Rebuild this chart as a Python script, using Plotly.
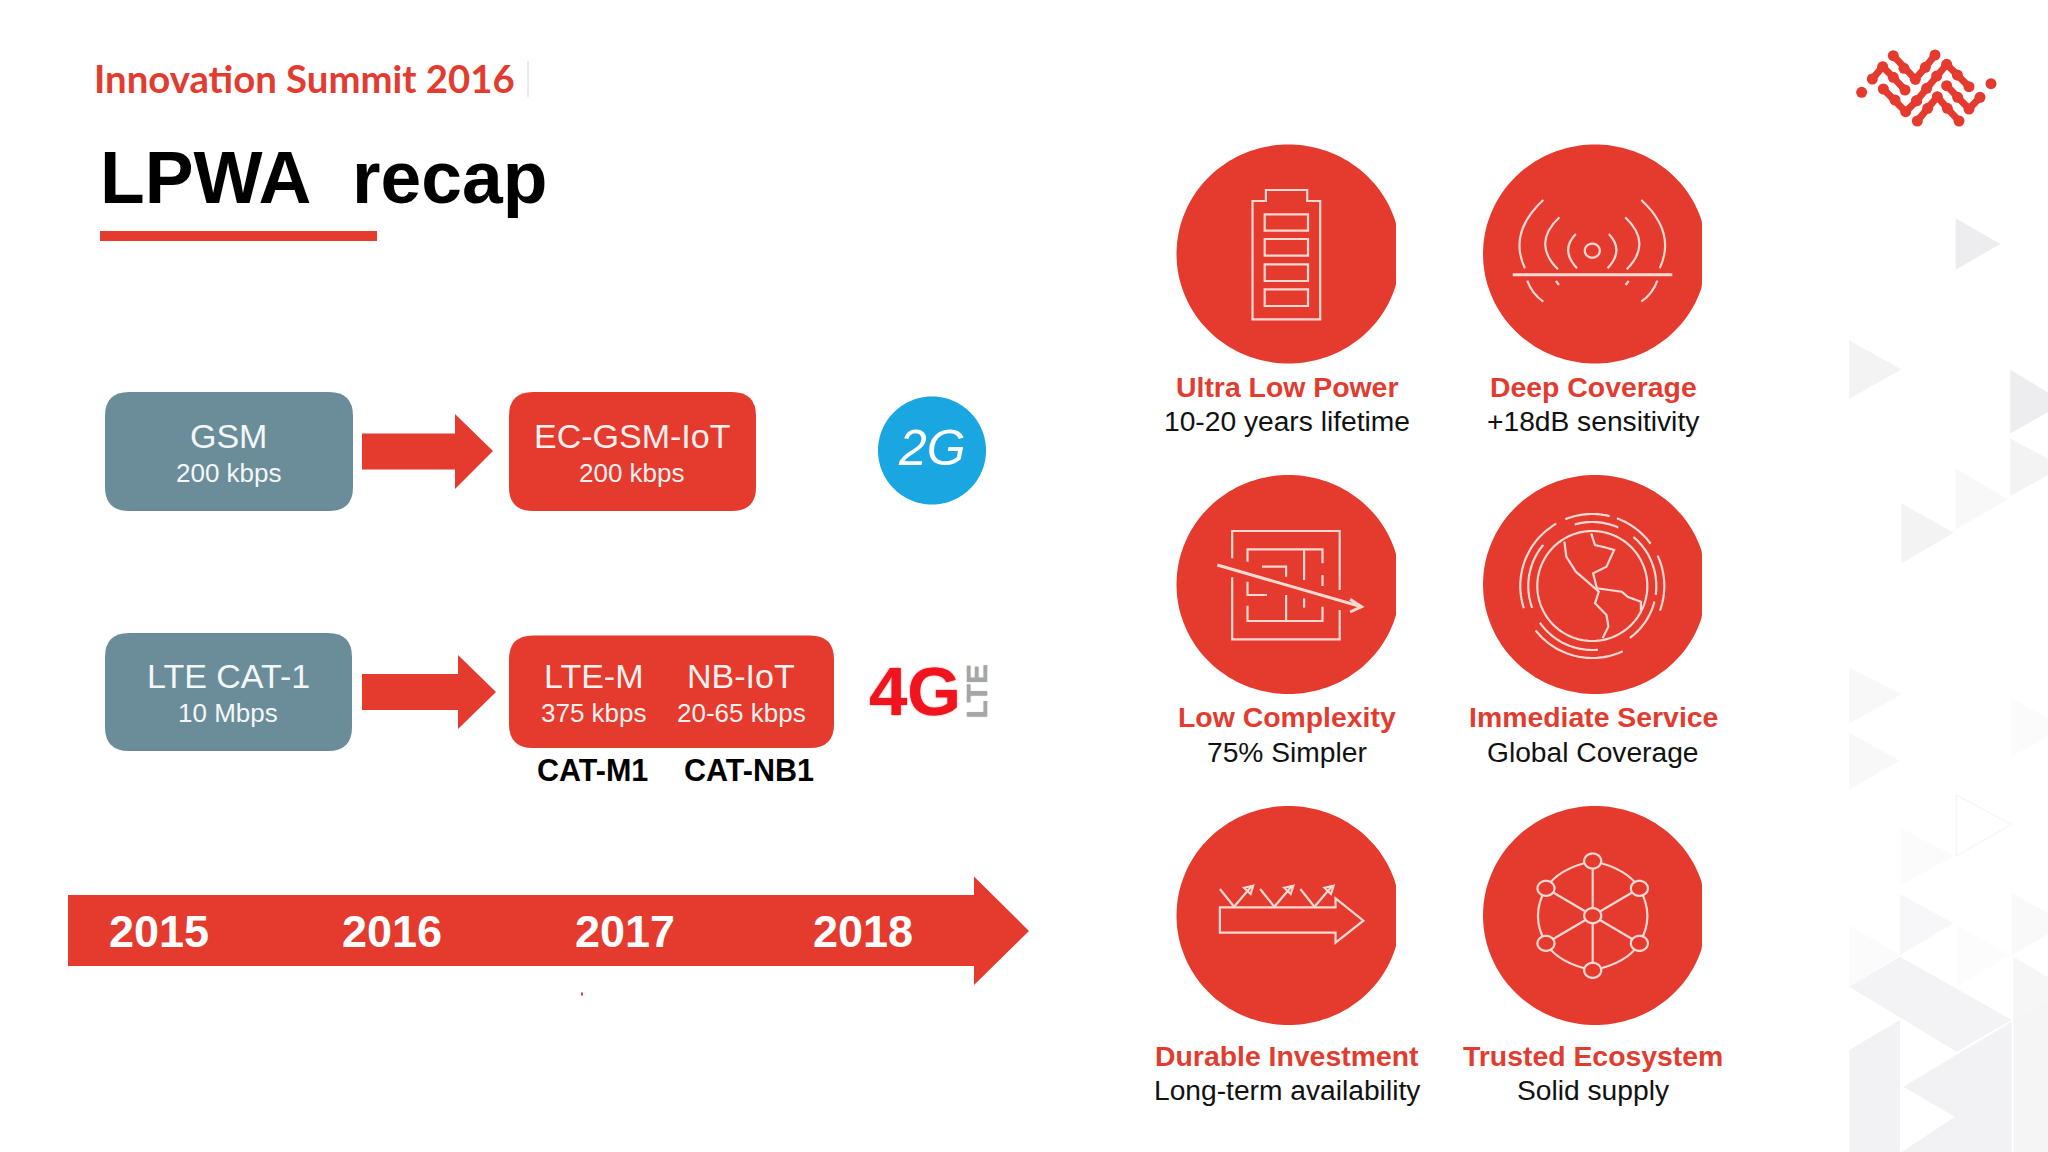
import numpy as np
import plotly.graph_objects as go

# ---------- text content ----------
HEADER = "Innovation Summit 2016"
TITLE = "LPWA\u00a0\u00a0recap"
LEGACY_NAMES = ["GSM", "LTE CAT-1"]
LEGACY_RATES = ["200 kbps", "10 Mbps"]
LPWA_NAMES = ["EC-GSM-IoT", "LTE-M", "NB-IoT"]
LPWA_RATES = ["200 kbps", "375 kbps", "20-65 kbps"]
CATEGORIES = ["CAT-M1", "CAT-NB1"]
YEARS = ["2015", "2016", "2017", "2018"]
BENEFITS = ["Ultra Low Power", "Deep Coverage", "Low Complexity",
            "Immediate Service", "Durable Investment", "Trusted Ecosystem"]
DETAILS = ["10-20 years lifetime", "+18dB sensitivity", "75% Simpler",
           "Global Coverage", "Long-term availability", "Solid supply"]

# ---------- layout ----------
W, H = 2048, 1152
RED, SLATE, BLUE = "#E53A2E", "#6B8D9A", "#1AA6E0"
PALE = "#FAD9D3"
FONT = "Liberation Sans"
shapes, notes = [], []


def pts_path(pts, closed=True):
    s = "M" + " L".join(f"{x:.1f},{y:.1f}" for x, y in pts)
    return s + (" Z" if closed else "")


def add_path(path, fill=None, line=None, width=0):
    shapes.append(dict(type="path", path=path, xref="x", yref="y", layer="above",
                       fillcolor=fill if fill else "rgba(0,0,0,0)",
                       line=dict(color=line if line else "rgba(0,0,0,0)", width=width)))


def rrect(x0, y0, x1, y1, r, fill):
    add_path(f"M{x0+r},{y0} L{x1-r},{y0} Q{x1},{y0} {x1},{y0+r} L{x1},{y1-r} Q{x1},{y1} {x1-r},{y1} "
             f"L{x0+r},{y1} Q{x0},{y1} {x0},{y1-r} L{x0},{y0+r} Q{x0},{y0} {x0+r},{y0} Z", fill)


def disc(cx, cy, rx, ry, fill, clip=None, line=None, width=0):
    t = np.linspace(0, 2 * np.pi, 181)
    xs = cx + rx * np.cos(t)
    if clip is not None:
        xs = np.minimum(xs, clip)
    add_path(pts_path(list(zip(xs, cy + ry * np.sin(t)))), fill, line, width)


def text(s, x, base, size, color, bold=False, italic=False, family=FONT, angle=0, anchor="center", shadow=None):
    t = f"<b>{s}</b>" if bold else s
    if italic:
        t = f"<i>{t}</i>"
    font = dict(family=family, size=size, color=color)
    if shadow:
        font["shadow"] = shadow
    notes.append(dict(text=t, x=x, y=base - 0.34 * size, xref="x", yref="y", showarrow=False,
                      xanchor=anchor, yanchor="middle", textangle=angle, font=font))


def arrow(x0, xb, xt, y0, y1, yh0, yh1, ym):
    add_path(pts_path([(x0, y0), (xb, y0), (xb, yh0), (xt, ym), (xb, yh1), (xb, y1), (x0, y1)]), RED)


# ---------- background triangles ----------
def bg_px(scaled, color, line=None):
    shapes.append(dict(type="path", path=pts_path(scaled), xref="x", yref="y", layer="below",
                       fillcolor=color, line=dict(color=line if line else "rgba(0,0,0,0)", width=0)))


def bg(pts, color, line=None):
    bg_px([(1748 + a / 3, b / 1.361) for a, b in pts], color, line)


def bg2(pts, color):
    bg_px([(1840 + a / 3, 860 + b / 3) for a, b in pts], color)


D, M, L, VL = "#EDEDEF", "#F3F3F4", "#F8F8F9", "#FBFBFB"
for tri, c in [
    ([(623, 297), (623, 367), (757, 332)], D),
    ([(303, 463), (303, 543), (460, 503)], M),
    ([(787, 503), (787, 590), (950, 548)], D),
    ([(787, 597), (787, 675), (945, 635)], M),
    ([(623, 638), (623, 720), (780, 680)], L),
    ([(460, 685), (460, 767), (617, 725)], M),
    ([(303, 908), (303, 985), (460, 945)], L),
    ([(303, 997), (303, 1075), (455, 1035)], L),
    ([(790, 950), (790, 1030), (950, 990)], VL),
    ([(458, 1127), (458, 1205), (617, 1165)], VL),
]:
    bg(tri, c)
shapes.append(dict(type="path",
                   path=pts_path([(1748 + a / 3, b / 1.361) for a, b in [(625, 1082), (625, 1165), (790, 1122)]]),
                   xref="x", yref="y", layer="below", fillcolor="rgba(0,0,0,0)",
                   line=dict(color="#F3F3F4", width=1)))
for poly, c in [
    ([(180, 102), (180, 285), (340, 190)], "#F7F6F8"),
    ([(515, 100), (515, 285), (680, 190)], "#F9F9FA"),
    ([(28, 195), (28, 380), (180, 285)], "#FBFBFC"),
    ([(350, 195), (350, 380), (510, 285)], "#FCFCFC"),
    ([(28, 380), (180, 290), (515, 480), (350, 575)], "#F3F2F4"),
    ([(28, 570), (180, 480), (180, 876), (28, 876)], "#F2F1F3"),
    ([(190, 680), (515, 485), (515, 876), (185, 876), (345, 770)], "#F2F1F3"),
    ([(520, 290), (680, 385), (520, 480)], "#F6F6F7"),
    ([(520, 480), (680, 385), (680, 876), (520, 876)], "#F5F5F6"),
]:
    bg2(poly, c)

# ---------- header ----------
text(HEADER, 92, 91, 38.3, "#E23C30", bold=True, family="Lato", anchor="left")
shapes.append(dict(type="line", x0=528, x1=528, y0=61, y1=97, xref="x", yref="y",
                   line=dict(color="#D8D8D8", width=1)))
text(TITLE, 98, 203, 73.2, "#000000", bold=True, anchor="left")
add_path(pts_path([(100, 231), (377, 231), (377, 241), (100, 241)]), RED)

# ---------- technology rows ----------
rrect(105, 392, 353, 511, 24, SLATE)
rrect(509, 392, 756, 511, 24, RED)
arrow(362, 455, 493, 433.5, 469.5, 414, 489, 451)
rrect(105, 633, 352, 751, 24, SLATE)
rrect(509, 635.5, 834, 748, 24, RED)
arrow(362, 458, 496, 674, 710, 655, 729, 692)
disc(932, 450.5, 54, 54, BLUE)

text(LEGACY_NAMES[0], 228.5, 448, 34, "#F4F7F8")
text(LEGACY_RATES[0], 229, 482, 26, "#F4F7F8")
text(LPWA_NAMES[0], 632, 448, 34, "#FDF1EF")
text(LPWA_RATES[0], 632, 482, 26, "#FDF1EF")
text(LEGACY_NAMES[1], 228, 688, 34, "#F4F7F8")
text(LEGACY_RATES[1], 228, 722, 26, "#F4F7F8")
text(LPWA_NAMES[1], 593, 688, 34, "#FDF1EF")
text(LPWA_RATES[1], 594, 722, 26, "#FDF1EF")
text(LPWA_NAMES[2], 741, 688, 34, "#FDF1EF")
text(LPWA_RATES[2], 741, 722, 26, "#FDF1EF")
text(CATEGORIES[0], 592.5, 780, 30.5, "#000000", bold=True)
text(CATEGORIES[1], 748.5, 780, 30.5, "#000000", bold=True)

text("2G", 932, 465, 50, "#FFFFFF", italic=True)
text("4G", 915, 715, 69, "#F0141E", bold=True, shadow="0 0 1.5px #F0141E")
notes.append(dict(text="<b>LTE</b>", x=975.5, y=692, xref="x", yref="y", showarrow=False,
                  textangle=-90, font=dict(family=FONT, size=30, color="#A6A6A6",
                                           shadow="0 0 1px #A6A6A6")))

# ---------- timeline ----------
arrow(68, 974, 1029, 895, 966, 876.5, 985, 931)
for label, x in zip(YEARS, [159, 392, 625, 863]):
    text(label, x, 947, 45, "#FFFFFF", bold=True)
add_path(pts_path([(581, 992.5), (583, 992.5), (583, 995.5), (581, 995.5)]), RED)

# ---------- benefit badges ----------
CX = [1288.5, 1595]
CLIP = [1396, 1702]
CY = [254, 584.5, 915.5]
TITLE_BASE = [397, 727, 1066]
SUB_BASE = [431, 762, 1100]
TEXT_X = [1287, 1593]
for i in range(6):
    r, c = i // 2, i % 2
    disc(CX[c], CY[r], 112, 109.5, RED, clip=CLIP[c])
    text(BENEFITS[i], TEXT_X[c], TITLE_BASE[r], 28.4, "#E23C30", bold=True)
    text(DETAILS[i], TEXT_X[c], SUB_BASE[r], 28.2, "#111111")


def view(oy):
    return lambda X, Y: (1130 + X / 2.613, oy + Y / 3)


def stroke(v, pts, width=2.2, closed=False):
    add_path(pts_path([v(*p) for p in pts], closed), None, PALE, width)


def curve(v, a, m, b, width=2.2):
    p0, p1, p2 = v(*a), v(*m), v(*b)
    cx = 2 * p1[0] - (p0[0] + p2[0]) / 2
    cy = 2 * p1[1] - (p0[1] + p2[1]) / 2
    add_path(f"M{p0[0]:.1f},{p0[1]:.1f} Q{cx:.1f},{cy:.1f} {p2[0]:.1f},{p2[1]:.1f}", None, PALE, width)


def box(v, x0, y0, x1, y1, width=2.2):
    stroke(v, [(x0, y0), (x1, y0), (x1, y1), (x0, y1)], width, True)


# battery
v = view(120)
stroke(v, [(320, 243), (355, 243), (355, 210), (463, 210), (463, 243), (497, 243), (497, 598), (320, 598)], 2.2, True)
for y0, y1 in [(283, 332), (357, 407), (433, 483), (508, 558)]:
    box(v, 352, y0, 465, y1)

# signal
p = v(1208, 392)
disc(p[0], p[1], 7.5, 7, None, line=PALE, width=2.2)
stroke(v, [(1000, 464), (1417, 464)], 3)
for sgn in (-1, 1):
    mx = lambda X: 1208 + sgn * (1208 - X)
    curve(v, (mx(1165), 342), (mx(1145), 392), (mx(1168), 445))
    curve(v, (mx(1122), 292), (mx(1085), 370), (mx(1118), 448))
    curve(v, (mx(1080), 240), (mx(1022), 340), (mx(1032), 445))
    curve(v, (mx(1038), 482), (mx(1055), 518), (mx(1080), 545))
    stroke(v, [(mx(1113), 483), (mx(1121), 495)])

# maze
v = view(460)
stroke(v, [(267, 295), (267, 213), (548, 213), (548, 390)])
stroke(v, [(267, 352), (267, 538), (548, 538), (548, 450)])
stroke(v, [(307, 305), (307, 268), (503, 268), (503, 310)])
stroke(v, [(307, 365), (307, 405), (358, 405)])
stroke(v, [(307, 437), (307, 483), (503, 483), (503, 440)])
stroke(v, [(503, 345), (503, 378)])
stroke(v, [(455, 268), (455, 360)])
stroke(v, [(345, 320), (408, 320), (408, 350)])
stroke(v, [(408, 405), (408, 483)])
stroke(v, [(455, 415), (455, 443)])
stroke(v, [(228, 315), (605, 440)], 3)
stroke(v, [(575, 418), (605, 440), (575, 456)], 3)

# globe
cg = v(1208, 378)
disc(cg[0], cg[1], 55, 55, None, line=PALE, width=2.2)


def arc(r, a0, a1):
    t = np.radians(np.linspace(a0, a1, 40))
    add_path(pts_path(list(zip(cg[0] + r * np.cos(t), cg[1] - r * np.sin(t))), False), None, PALE, 2.2)


for a0, a1 in [(112, 76), (70, 36), (25, -20), (-65, -142), (198, 120)]:
    arc(72, a0, a1)
for a0, a1 in [(106, 66), (50, -8), (-14, -54), (-85, -145), (200, 140)]:
    arc(64, a0, a1)
stroke(v, [(1135, 245), (1140, 290), (1165, 335), (1195, 365), (1225, 395), (1215, 430),
           (1245, 465), (1250, 500), (1235, 535)])
stroke(v, [(1205, 220), (1215, 255), (1240, 262), (1265, 270), (1245, 320), (1210, 340),
           (1220, 385), (1285, 395), (1300, 410), (1335, 425), (1335, 460)])

# rising arrow
v = view(790)
stroke(v, [(235, 352), (537, 352), (537, 325), (610, 392), (537, 458), (537, 428), (235, 428)], 2.2, True)
for dx in (0, 105, 210):
    stroke(v, [(235 + dx, 297), (272 + dx, 350), (318 + dx, 288)])
    stroke(v, [(298 + dx, 293), (322 + dx, 287), (315 + dx, 312)], 2.2, True)

# network
hub = (1209, 377)
nodes = [(1209, 213), (1331, 295), (1331, 460), (1209, 541), (1087, 460), (1087, 295)]
bends = [(1285, 245), (1352, 378), (1285, 510), (1133, 510), (1066, 378), (1133, 245)]
for k, n in enumerate(nodes):
    curve(v, n, bends[k], nodes[(k + 1) % 6])
    stroke(v, [hub, n])
for n in nodes + [hub]:
    q = v(*n)
    disc(q[0], q[1], 8.5, 7.5, RED, line=PALE, width=2.2)

# ---------- logo ----------
LOGO = [
    [(65, 157)], [(453, 131)],
    [(160, 47), (192, 85), (226, 118), (256, 82), (285, 45)],
    [(97, 117), (128, 80), (160, 112), (195, 150)],
    [(230, 182), (260, 145), (290, 108), (320, 73), (352, 105), (387, 140)],
    [(130, 147), (165, 180), (197, 215), (230, 182)],
    [(232, 243), (263, 205), (292, 170), (322, 205), (357, 243)],
    [(320, 137), (353, 172), (387, 207), (420, 172)],
]
fig = go.Figure()
for seg in LOGO:
    fig.add_trace(go.Scatter(x=[1840 + a / 3 for a, _ in seg], y=[40 + b / 3 for _, b in seg],
                             mode="lines+markers", hoverinfo="skip", showlegend=False,
                             line=dict(color=RED, width=7), marker=dict(color=RED, size=11)))

fig.update_layout(
    width=W, height=H, margin=dict(l=0, r=0, t=0, b=0), showlegend=False,
    paper_bgcolor="#FFFFFF", plot_bgcolor="#FFFFFF",
    xaxis=dict(range=[0, W], visible=False, fixedrange=True),
    yaxis=dict(range=[H, 0], visible=False, fixedrange=True),
    shapes=shapes, annotations=notes, font=dict(family=FONT),
)
fig.write_html("out.html", config=dict(displayModeBar=False),
               post_script="document.body.style.margin='0';")
